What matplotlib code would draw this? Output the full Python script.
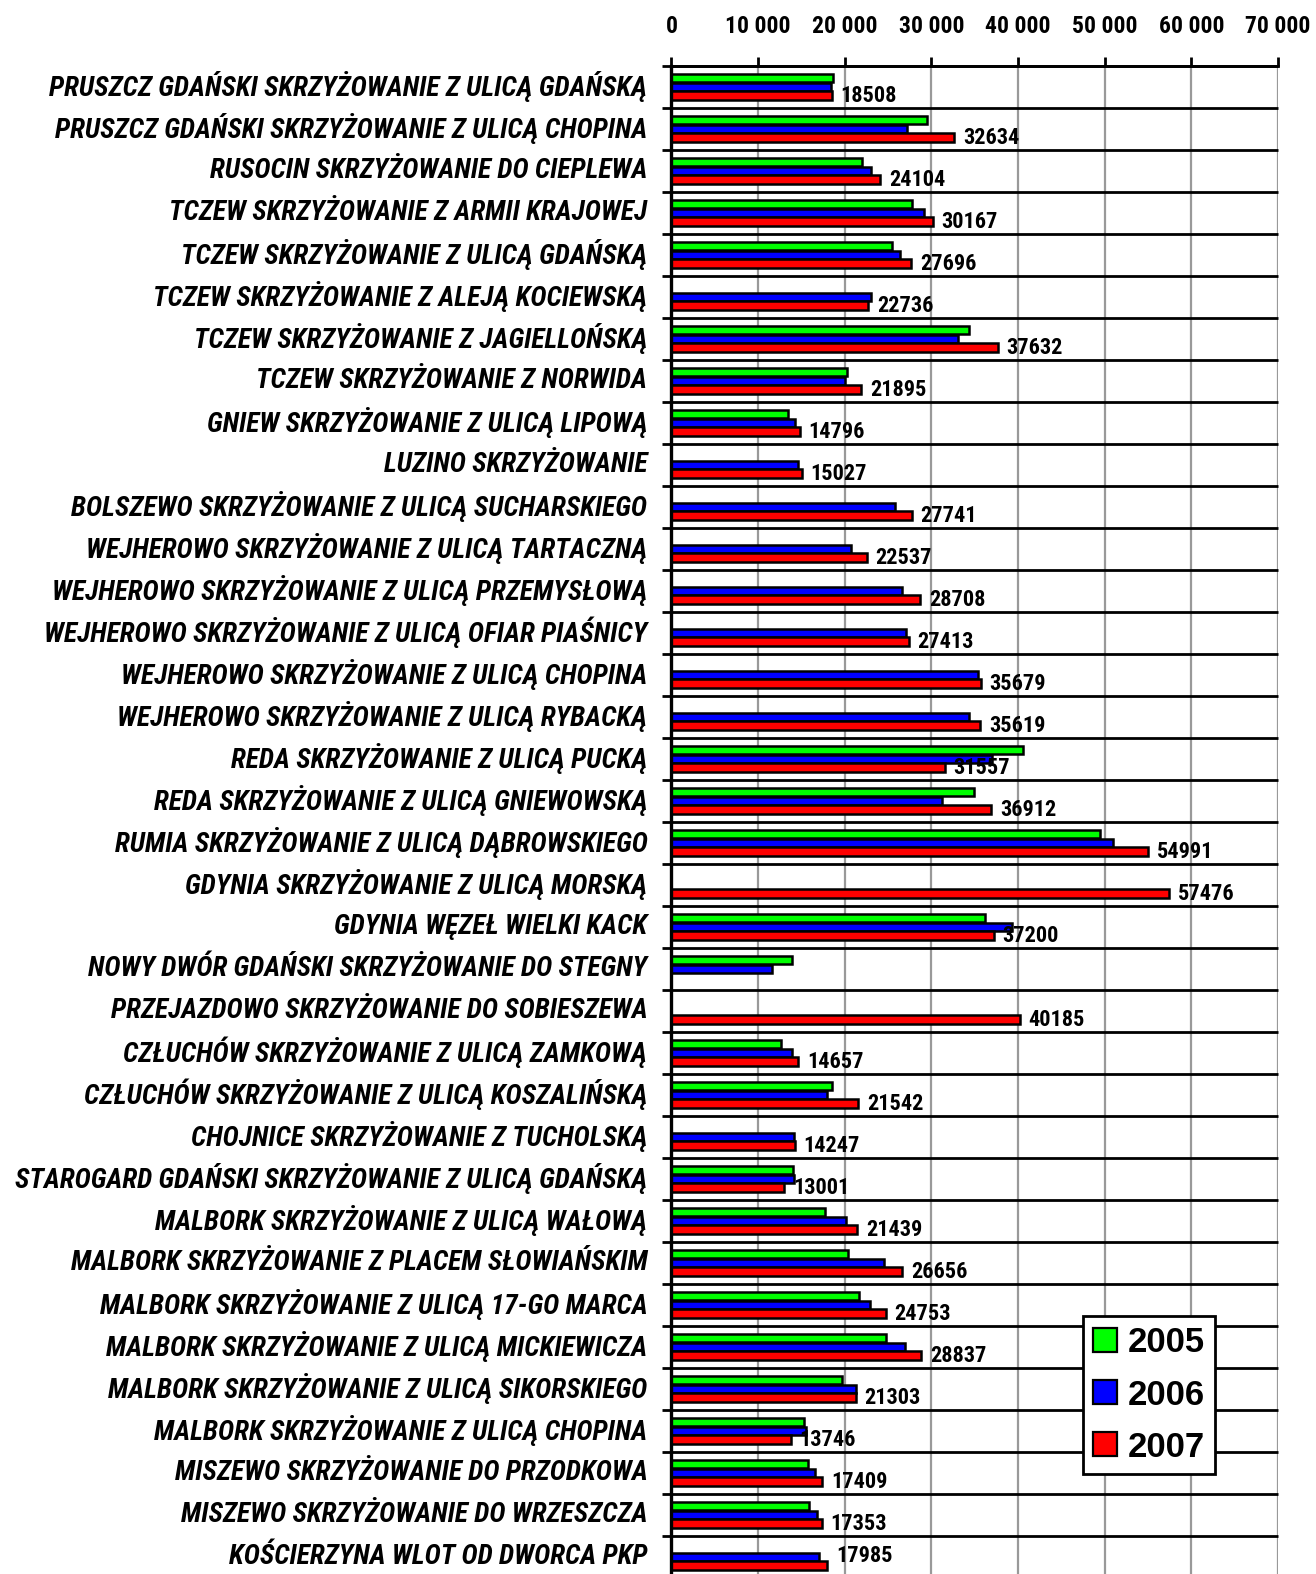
import matplotlib
matplotlib.use("Agg")
import matplotlib.pyplot as plt
import matplotlib.transforms as mtransforms
from matplotlib.patches import Patch
from matplotlib import font_manager

categories = [
    "PRUSZCZ GDAŃSKI SKRZYŻOWANIE Z ULICĄ GDAŃSKĄ",
    "PRUSZCZ GDAŃSKI SKRZYŻOWANIE Z ULICĄ CHOPINA",
    "RUSOCIN SKRZYŻOWANIE DO CIEPLEWA",
    "TCZEW SKRZYŻOWANIE Z ARMII KRAJOWEJ",
    "TCZEW SKRZYŻOWANIE Z ULICĄ GDAŃSKĄ",
    "TCZEW SKRZYŻOWANIE Z ALEJĄ KOCIEWSKĄ",
    "TCZEW SKRZYŻOWANIE Z JAGIELLOŃSKĄ",
    "TCZEW SKRZYŻOWANIE Z NORWIDA",
    "GNIEW SKRZYŻOWANIE Z ULICĄ LIPOWĄ",
    "LUZINO SKRZYŻOWANIE",
    "BOLSZEWO SKRZYŻOWANIE Z ULICĄ SUCHARSKIEGO",
    "WEJHEROWO SKRZYŻOWANIE Z ULICĄ TARTACZNĄ",
    "WEJHEROWO SKRZYŻOWANIE Z ULICĄ PRZEMYSŁOWĄ",
    "WEJHEROWO SKRZYŻOWANIE Z ULICĄ OFIAR PIAŚNICY",
    "WEJHEROWO SKRZYŻOWANIE Z ULICĄ CHOPINA",
    "WEJHEROWO SKRZYŻOWANIE Z ULICĄ RYBACKĄ",
    "REDA SKRZYŻOWANIE Z ULICĄ PUCKĄ",
    "REDA SKRZYŻOWANIE Z ULICĄ GNIEWOWSKĄ",
    "RUMIA SKRZYŻOWANIE Z ULICĄ DĄBROWSKIEGO",
    "GDYNIA SKRZYŻOWANIE Z ULICĄ MORSKĄ",
    "GDYNIA WĘZEŁ WIELKI KACK",
    "NOWY DWÓR GDAŃSKI SKRZYŻOWANIE DO STEGNY",
    "PRZEJAZDOWO SKRZYŻOWANIE DO SOBIESZEWA",
    "CZŁUCHÓW SKRZYŻOWANIE Z ULICĄ ZAMKOWĄ",
    "CZŁUCHÓW SKRZYŻOWANIE Z ULICĄ KOSZALIŃSKĄ",
    "CHOJNICE SKRZYŻOWANIE Z TUCHOLSKĄ",
    "STAROGARD GDAŃSKI SKRZYŻOWANIE Z ULICĄ GDAŃSKĄ",
    "MALBORK SKRZYŻOWANIE Z ULICĄ WAŁOWĄ",
    "MALBORK SKRZYŻOWANIE Z PLACEM SŁOWIAŃSKIM",
    "MALBORK SKRZYŻOWANIE Z ULICĄ 17-GO MARCA",
    "MALBORK SKRZYŻOWANIE Z ULICĄ MICKIEWICZA",
    "MALBORK SKRZYŻOWANIE Z ULICĄ SIKORSKIEGO",
    "MALBORK SKRZYŻOWANIE Z ULICĄ CHOPINA",
    "MISZEWO SKRZYŻOWANIE DO PRZODKOWA",
    "MISZEWO SKRZYŻOWANIE DO WRZESZCZA",
    "KOŚCIERZYNA WLOT OD DWORCA PKP",
]

N = None
values_2005 = [18650, 29500, 22000, 27700, 25400, N, 34300, 20200, 13450, N,
               N, N, N, N, N, N, 40550, 34900, 49500, N,
               36150, 13900, N, 12650, 18550, N, 14000, 17700, 20400, 21650,
               24800, 19700, 15300, 15750, 15850, N]
values_2006 = [18400, 27200, 23050, 29200, 26400, 23050, 33100, 20000, 14250, 14600,
               25850, 20750, 26550, 27100, 35350, 34300, 36950, 31200, 51000, N,
               39300, 11600, N, 13900, 17950, 14150, 14150, 20150, 24550, 22950,
               27000, 21300, 15550, 16550, 16800, 17050]
values_2007 = [18508, 32634, 24104, 30167, 27696, 22736, 37632, 21895, 14796, 15027,
               27741, 22537, 28708, 27413, 35679, 35619, 31557, 36912, 54991, 57476,
               37200, N, 40185, 14657, 21542, 14247, 13001, 21439, 26656, 24753,
               28837, 21303, 13746, 17409, 17353, 17985]

series_names = ["2005", "2006", "2007"]
series_colors = ["#00ff00", "#0000ff", "#ff0000"]
x_ticks = [0, 10000, 20000, 30000, 40000, 50000, 60000, 70000]
x_tick_labels = ["0", "10 000", "20 000", "30 000", "40 000", "50 000", "60 000", "70 000"]

available = {f.name for f in font_manager.fontManager.ttflist}
narrow = None
for cand in ["Liberation Sans Narrow", "Arial Narrow", "Roboto Condensed"]:
    if cand in available:
        narrow = cand
        break
NARROW = [narrow, "Liberation Sans", "DejaVu Sans"] if narrow else ["Liberation Sans", "DejaVu Sans"]
ARIAL = ["Liberation Sans", "DejaVu Sans"]

W, H = 1316, 1574
fig = plt.figure(figsize=(W / 100, H / 100), dpi=100)
fig.patch.set_facecolor("white")
n = len(categories)
ax_left, ax_right, ax_top = 671.5, 1278, 65.5
row_px = 42.0
ax_bottom = ax_top + n * row_px
ax = fig.add_axes([ax_left / W, 1 - ax_bottom / H, (ax_right - ax_left) / W, (ax_bottom - ax_top) / H])

ax.set_xlim(0, 70000)
ax.set_ylim(n, 0)

offsets = [0.295, 0.505, 0.715]
bar_h = 0.2
for vals, col, off in zip([values_2005, values_2006, values_2007], series_colors, offsets):
    idx = [i for i, v in enumerate(vals) if v is not None]
    ax.barh([i + off for i in idx], [vals[i] for i in idx], height=bar_h, color=col,
            edgecolor="black", linewidth=1.8, zorder=3)

# value labels
lab_size = 16 if narrow else 14
for i in range(n):
    v = values_2007[i]
    if v is None:
        continue
    yy = i + 0.5 if i == n - 1 else i + 0.72
    ax.text(v + 1000, yy, f"{v}", ha="left", va="center", fontsize=lab_size,
            fontweight="bold", family=NARROW, zorder=4)

# grid
for xv in x_ticks[1:]:
    ax.axvline(xv, color="#999999", lw=1.6, zorder=1)
ext = 9 / (ax_right - ax_left) * 70000
for j in range(n + 1):
    ax.plot([-ext, 70000], [j, j], color="black", lw=2, zorder=2, clip_on=False,
            solid_capstyle="butt")

for sp in ["right", "bottom"]:
    ax.spines[sp].set_visible(False)
ax.spines["left"].set_linewidth(2.4)
ax.spines["left"].set_zorder(5)
ax.spines["top"].set_linewidth(2)

ax.xaxis.tick_top()
ax.set_xticks(x_ticks)
ax.set_xticklabels(x_tick_labels)
ax.tick_params(axis="x", direction="out", length=6.5, width=2, pad=13.5,
               labelsize=17 if narrow else 16)
for t in ax.get_xticklabels():
    t.set_fontweight("bold")
    t.set_family(NARROW)
ax.set_yticks([])

trans = mtransforms.blended_transform_factory(ax.transAxes, ax.transData)
for i, c in enumerate(categories):
    ax.text(-24 / (ax_right - ax_left), i + 0.5, c, transform=trans, ha="right", va="center",
            fontsize=19.8 if narrow else 15.75, fontweight="bold", fontstyle="italic", family=NARROW)

handles = [Patch(facecolor=c, edgecolor="black", linewidth=1.6) for c in series_colors]
leg = fig.legend(handles, series_names, loc="upper left",
                 bbox_to_anchor=(1083 / W, 1 - 1316 / H),
                 prop={"family": ARIAL, "weight": "bold", "size": 25},
                 frameon=True, fancybox=False, framealpha=1, edgecolor="black",
                 handlelength=0.69, handleheight=0.69, handletextpad=0.3,
                 labelspacing=0.55, borderpad=0.3, borderaxespad=0)
leg.get_frame().set_linewidth(2)
leg.set_zorder(10)

fig.savefig("out.png", dpi=100, facecolor="white")
